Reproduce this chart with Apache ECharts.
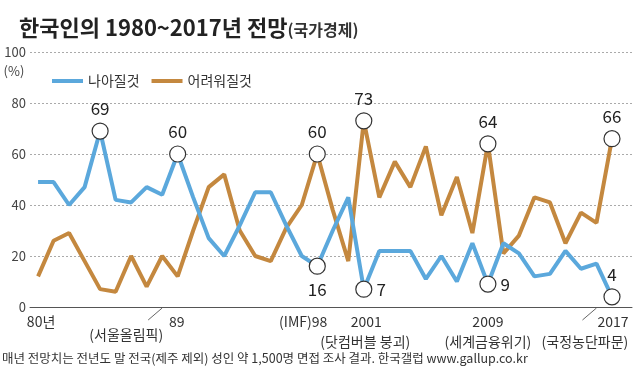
<!DOCTYPE html>
<html>
<head>
<meta charset="utf-8">
<script src="https://cdn.jsdelivr.net/npm/echarts@6/dist/echarts.min.js"></script>
<style>
html,body{margin:0;padding:0;background:#fff;}
#c{width:640px;height:369px;}
</style>
</head>
<body>
<div id="c"></div>
<script>
const years = [1980,1981,1982,1983,1984,1985,1986,1987,1988,1989,1990,1991,1992,1993,1994,1995,1996,1997,1998,1999,2000,2001,2002,2003,2004,2005,2006,2007,2008,2009,2010,2011,2012,2013,2014,2015,2016,2017];
const better = [49,49,40,47,69,42,41,47,44,60,43,27,20,32,45,45,32,20,16,30,43,7,22,22,22,11,20,10,25,9,25,21,12,13,22,15,17,4];
const worse  = [12,26,29,18,7,6,20,8,20,12,30,47,52,30,20,18,31,40,60,38,18,73,43,57,47,63,36,51,29,64,21,28,43,41,25,37,33,66];
const seriesNames = ['나아질것','어려워질것'];
const betterHighlightYears = [1984,1989,1998,2001,2009,2017];
const worseHighlightYears = [1998,2001,2009,2017];
const tickYears = [1980,1989,1998,2001,2009,2017];
const tickLabels = ['80년','89','(IMF)98','2001','2009','2017'];
const eventYears = [1988,2001,2009,2016];
const eventLabels = ['(서울올림픽)','(닷컴버블 붕괴)','(세계금융위기)','(국정농단파문)'];
const yTicks = [0,20,40,60,80,100];
const titleMain = '한국인의 1980~2017년 전망';
const titleSub = '(국가경제)';
const footnote = '매년 전망치는 전년도 말 전국(제주 제외) 성인 약 1,500명 면접 조사 결과. 한국갤럽 www.gallup.co.kr';

const FONT = '"Noto Sans CJK KR", "Noto Sans", sans-serif';
const BLUE = '#5ba8dc';
const BROWN = '#c4883f';

const betterLabelPos = {1984:'top',1989:'top',1998:'bottom',2001:'right',2009:'right',2017:'top'};

function pairs(vals){ return years.map((y,i)=>[y, vals[i]]); }
function picks(hYears, vals){ return hYears.map(y=>[y, vals[years.indexOf(y)]]); }

const chart = echarts.init(document.getElementById('c'), null, {renderer:'canvas'});

const circleStyle = {color:'#fff', borderColor:'#333', borderWidth:1.2, opacity:1};
const labelBase = {show:true, fontSize:17, color:'#222', fontFamily:FONT, formatter: p => String(p.value[1])};

chart.setOption({
  animation:false,
  backgroundColor:'#fff',
  textStyle:{fontFamily:FONT},
  title:{
    left:14, top:12,
    text:'{a|'+titleMain+'}{b|'+titleSub+'}',
    textStyle:{
      rich:{
        a:{fontSize:22, fontWeight:'bold', color:'#222', fontFamily:FONT},
        b:{fontSize:16, color:'#333', fontFamily:FONT, padding:[3,0,0,0]}
      }
    }
  },
  legend:{
    data:seriesNames,
    left:47, top:69,
    icon:'rect', itemWidth:31, itemHeight:4, itemGap:12,
    textStyle:{fontSize:14, color:'#333', fontFamily:FONT}
  },
  grid:{left:30, right:8, top:52, bottom:62},
  xAxis:{
    type:'value', min:1979.48, max:2018.29,
    axisLabel:{show:false}, axisTick:{show:false}, splitLine:{show:false},
    axisLine:{lineStyle:{color:'#555', width:1}}
  },
  yAxis:{
    type:'value', min:0, max:100, interval:20,
    axisLine:{show:false}, axisTick:{show:false},
    axisLabel:{fontSize:13, color:'#444', margin:4, fontFamily:FONT},
    splitLine:{lineStyle:{type:[2,2], color:'#aaa', width:1}}
  },
  series:[
    {name:seriesNames[0], type:'line', data:pairs(better), symbol:'none', color:BLUE,
     lineStyle:{width:4, color:BLUE}, z:3},
    {name:seriesNames[1], type:'line', data:pairs(worse), symbol:'none', color:BROWN,
     lineStyle:{width:4, color:BROWN}, z:2},
    {name:'hb', type:'scatter', z:5, symbol:'circle', symbolSize:16, itemStyle:circleStyle,
     data:picks(betterHighlightYears, better).map(d=>{
       const pos = betterLabelPos[d[0]];
       return {value:d, label:Object.assign({}, labelBase, {position:pos, distance: pos==='bottom'?6:(pos==='right'?4:5)})};
     })},
    {name:'hw', type:'scatter', z:5, symbol:'circle', symbolSize:16, itemStyle:circleStyle,
     data:picks(worseHighlightYears, worse).map(d=>({value:d, label:Object.assign({}, labelBase, {position:'top', distance:5})}))}
  ]
});

const px = y => chart.convertToPixel({xAxisIndex:0}, y);
const tickOffsets = {1980:3, 1989:-1, 1998:10, 2001:2.5, 2009:0, 2017:1};
const tickAlign = {1980:'center', 1989:'center', 1998:'right', 2001:'center', 2009:'center', 2017:'center'};
const eventOffsets = {1988:1, 2001:1.5, 2009:0, 2016:-11.5};
const eventAlign = {1988:'right', 2001:'center', 2009:'center', 2016:'center'};
const eventY = {1988:335, 2001:342, 2009:342, 2016:342};

const g = [];
tickYears.forEach((y,i)=>{
  g.push({type:'text', x:px(y)+tickOffsets[y], y:322, style:{text:tickLabels[i], font:'14px '+FONT, fill:'#333', textAlign:tickAlign[y], textVerticalAlign:'middle'}});
});
eventYears.forEach((y,i)=>{
  g.push({type:'text', x:px(y)+eventOffsets[y], y:eventY[y], style:{text:eventLabels[i], font:'14px '+FONT, fill:'#333', textAlign:eventAlign[y], textVerticalAlign:'middle'}});
});
g.push({type:'line', shape:{x1:px(1988)-14, y1:320, x2:px(1988), y2:308}, style:{stroke:'#666', lineWidth:1}});
g.push({type:'line', shape:{x1:px(2016)-14, y1:320, x2:px(2016), y2:308}, style:{stroke:'#666', lineWidth:1}});
g.push({type:'text', x:14, y:71, style:{text:'(%)', font:'13px '+FONT, fill:'#444', textAlign:'center', textVerticalAlign:'middle'}});
g.push({type:'text', x:2, y:358, style:{text:footnote, font:'12.5px '+FONT, fill:'#333', textAlign:'left', textVerticalAlign:'middle'}});
chart.setOption({graphic:g});
</script>
</body>
</html>
